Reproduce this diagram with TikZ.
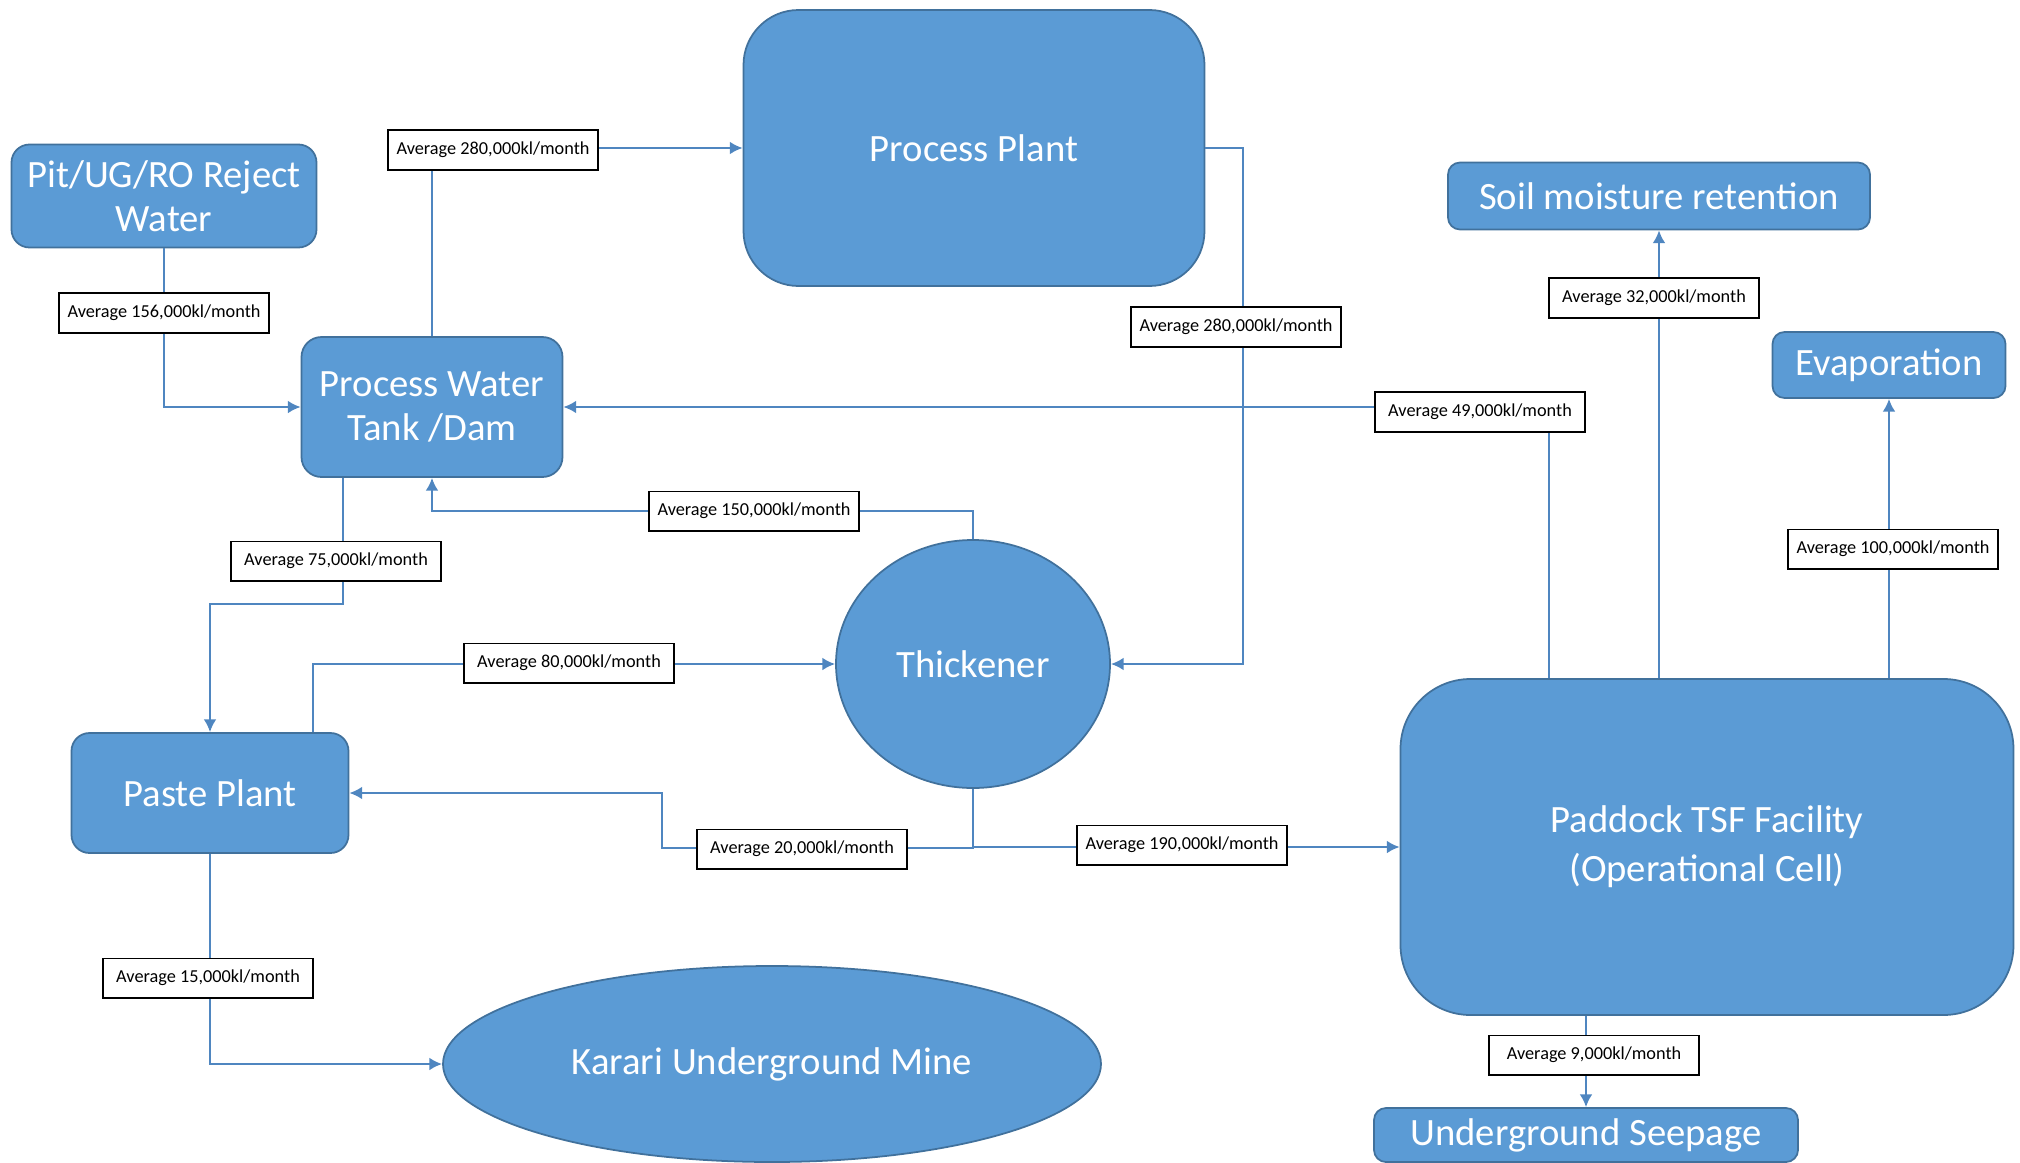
\documentclass[tikz,border=0pt]{standalone}
\usepackage{fontspec}
\setmainfont{Carlito}
\usetikzlibrary{arrows.meta, positioning, shapes.geometric}
\definecolor{unitblue}{HTML}{5B9BD5}
\definecolor{unitedge}{HTML}{41719C}
\definecolor{pipe}{HTML}{4F86C0}

\begin{document}
\begin{tikzpicture}[
  unit/.style={draw=unitedge, fill=unitblue, text=white, line width=0.5pt, align=center, inner sep=0pt, font=\fontsize{11}{12.5}\selectfont},
  oval/.style={unit, ellipse},
  flow/.style={pipe, line width=0.6pt, -{Latex[length=3.6pt,width=3.6pt]}},
  flowlabel/.style={draw=black, fill=white, line width=0.5pt, minimum width=2.1cm, minimum height=0.35cm, inner xsep=0.08cm, font=\fontsize{5.2}{6}\selectfont}
]
\useasboundingbox (0,0) rectangle (20.2,-11.63);
% units
\node[unit, rounded corners=0.18cm, minimum width=3.05cm, minimum height=1.03cm] (pit) at (1.64,-1.96) {Pit/UG/RO Reject\\Water};
\node[unit, rounded corners=0.2cm, minimum width=2.61cm, minimum height=1.40cm] (pw) at (4.32,-4.07) {Process Water\\Tank /Dam};
\node[unit, rounded corners=0.55cm, minimum width=4.61cm, minimum height=2.76cm] (plant) at (9.74,-1.48) {Process Plant};
\node[oval, minimum width=2.74cm, minimum height=2.48cm] (thick) at (9.73,-6.64) {Thickener};
\node[unit, rounded corners=0.18cm, minimum width=2.77cm, minimum height=1.20cm] (paste) at (2.10,-7.93) {Paste Plant};
\node[oval, minimum width=6.58cm, minimum height=1.96cm] (mine) at (7.72,-10.64) {Karari Underground Mine};
\node[unit, rounded corners=0.7cm, minimum width=6.13cm, minimum height=3.36cm, font=\fontsize{11}{14}\selectfont] (pad) at (17.07,-8.47) {Paddock TSF Facility\\(Operational Cell)};
\node[unit, rounded corners=0.12cm, minimum width=4.22cm, minimum height=0.67cm] (soil) at (16.59,-1.96) {Soil moisture retention};
\node[unit, rounded corners=0.12cm, minimum width=2.33cm, minimum height=0.66cm] (evap) at (18.89,-3.65) {Evaporation};
\node[unit, rounded corners=0.12cm, minimum width=4.24cm, minimum height=0.54cm] (seep) at (15.86,-11.35) {Underground Seepage};
% bends
\coordinate (rbend) at (12.43,-1.48);
\coordinate (jog) at (6.62,-8.48);
% flows
\draw[flow] (pit.south) |- (pw.west);
\draw[flow] (pw.north) |- (plant.west);
\draw[flow] (plant.east) -- (rbend) |- (thick.east);
\draw[flow] ([xshift=-1.58cm]pad.north) |- (pw.east);
\draw[flow] (thick.north) |- ([yshift=-0.33cm]pw.south) -- (pw.south);
\draw[flow] ([xshift=-0.89cm]pw.south) -- ++(0,-1.26) -| (paste.north);
\draw[flow] ([xshift=1.03cm]paste.north) |- (thick.west);
\draw[flow] (thick.south) |- (jog) |- (paste.east);
\draw[flow] (thick.south) |- (pad.west);
\draw[flow] (paste.south) |- (mine.west);
\draw[flow] (soil.south |- pad.north) -- (soil.south);
\draw[flow] (evap.south |- pad.north) -- (evap.south);
\draw[flow] (pad.south -| seep.north) -- (seep.north);
% labels
\node[flowlabel] (l156) at (1.64,-3.13) {Average 156,000kl/month};
\node[flowlabel] (l280a) at (4.93,-1.50) {Average 280,000kl/month};
\node[flowlabel] (l280b) at (12.36,-3.27) {Average 280,000kl/month};
\node[flowlabel] (l49) at (14.80,-4.12) {Average 49,000kl/month};
\node[flowlabel] (l32) at (16.54,-2.98) {Average 32,000kl/month};
\node[flowlabel] (l100) at (18.93,-5.49) {Average 100,000kl/month};
\node[flowlabel] (l150) at (7.54,-5.11) {Average 150,000kl/month};
\node[flowlabel] (l75) at (3.36,-5.61) {Average 75,000kl/month};
\node[flowlabel] (l80) at (5.69,-6.63) {Average 80,000kl/month};
\node[flowlabel] (l20) at (8.02,-8.49) {Average 20,000kl/month};
\node[flowlabel] (l190) at (11.82,-8.45) {Average 190,000kl/month};
\node[flowlabel] (l15) at (2.08,-9.78) {Average 15,000kl/month};
\node[flowlabel] (l9) at (15.94,-10.55) {Average 9,000kl/month};
\end{tikzpicture}
\end{document}
